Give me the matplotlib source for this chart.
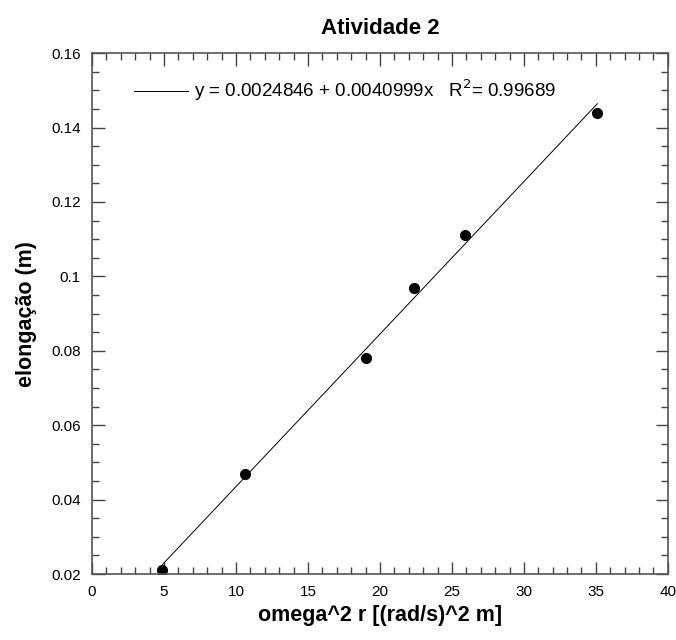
import numpy as np
import matplotlib
matplotlib.use('Agg')
import matplotlib.pyplot as plt
from matplotlib.ticker import MultipleLocator

plt.rcParams['font.family'] = ['Liberation Sans', 'DejaVu Sans']

# measured data
omega2r = [4.9, 10.6, 19.0, 22.4, 25.9, 35.1]
elong = [0.021, 0.047, 0.078, 0.097, 0.111, 0.144]

# fit reported in the chart
a, b = 0.0024846, 0.0040999
r2 = 0.99689

fig = plt.figure(figsize=(6.76, 6.4), dpi=100)
ax = fig.add_axes([0.136, 0.103, 0.852, 0.814])

xf = np.array([min(omega2r), max(omega2r)])
ax.plot(xf, a + b * xf, color='black', lw=0.7,
        label='y = %.7f + %.7fx   R$^2$= %.5f' % (a, b, r2))
ax.plot(omega2r, elong, 'o', color='black', ms=7)

ax.set_xlim(0, 40)
ax.set_ylim(0.02, 0.16)
ax.xaxis.set_major_locator(MultipleLocator(5))
ax.xaxis.set_minor_locator(MultipleLocator(1))
ax.yaxis.set_minor_locator(MultipleLocator(0.005))
ax.set_yticks([0.02, 0.04, 0.06, 0.08, 0.1, 0.12, 0.14, 0.16])
ax.set_yticklabels(['0.02', '0.04', '0.06', '0.08', '0.1', '0.12', '0.14', '0.16'])

ax.tick_params(which='both', direction='in', top=True, right=True,
               color='#444444', labelsize=11, pad=8)
ax.tick_params(which='major', length=9, width=1)
ax.tick_params(which='minor', length=5, width=1)
for s in ax.spines.values():
    s.set_color('#555555')
    s.set_linewidth(1.2)

ax.set_title('Atividade 2', fontsize=16, fontweight='bold', pad=14)
ax.set_xlabel('omega^2 r [(rad/s)^2 m]', fontsize=15.5, fontweight='bold', labelpad=4)
ax.set_ylabel('elongação (m)', fontsize=15.5, fontweight='bold', labelpad=10)

ax.legend(loc='upper left', bbox_to_anchor=(0.043, 0.985), frameon=False,
          fontsize=13.5, handlelength=2.9, handletextpad=0.3)

fig.savefig('out.png')
